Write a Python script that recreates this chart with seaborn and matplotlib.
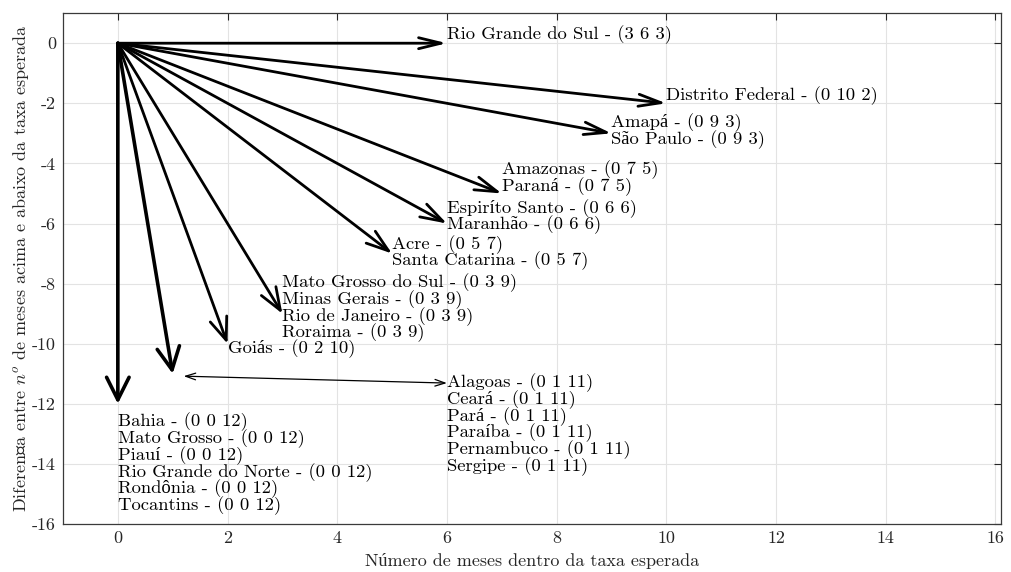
import numpy as np
import matplotlib.pyplot as plt
import seaborn as sns

# endpoints coded as (a b c): x = b, y = a - c
group_codes = [(3, 6, 3), (0, 10, 2), (0, 9, 3), (0, 7, 5), (0, 6, 6),
               (0, 5, 7), (0, 3, 9), (0, 2, 10), (0, 1, 11), (0, 0, 12)]
group_states = [
    ["Rio Grande do Sul"],
    ["Distrito Federal"],
    ["Amapá", "São Paulo"],
    ["Amazonas", "Paraná"],
    ["Espiríto Santo", "Maranhão"],
    ["Acre", "Santa Catarina"],
    ["Mato Grosso do Sul", "Minas Gerais", "Rio de Janeiro", "Roraima"],
    ["Goiás"],
    ["Alagoas", "Ceará", "Pará", "Paraíba", "Pernambuco", "Sergipe"],
    ["Bahia", "Mato Grosso", "Piauí", "Rio Grande do Norte", "Rondônia", "Tocantins"],
]
x_ticks = list(range(0, 17, 2))
y_ticks = list(range(0, -17, -2))

# label placement (layout only): x of label, offset of first line from the tip
label_x = [6, 10, 9, 7, 6, 5, 3, 2, 6, 0]
label_dy = [0.27, 0.27, 0.34, 0.78, 0.51, 0.31, 1.02, -0.15, -0.31, -0.61]
line_gap = 0.555

sns.set_theme(style='whitegrid')
plt.rcParams['font.family'] = ['cmr10', 'Liberation Serif']
plt.rcParams['mathtext.fontset'] = 'cm'
plt.rcParams['axes.unicode_minus'] = False

fig = plt.figure(figsize=(10.11, 5.72), dpi=100)
ax = fig.add_axes([0.0623, 0.0839, 0.9277, 0.8931])

fs_txt = 13.4
fs_ax = 13
for code, states, lx, dy in zip(group_codes, group_states, label_x, label_dy):
    a, b, c = code
    x, y = b, a - c
    thick = len(states) >= 6
    lw = 2.6 if thick else 2.0
    steep = abs(np.sin(np.arctan2(30 * y, 55 * x))) if x or y else 1
    hw = 0.45 if thick else 0.22 + 0.14 * steep
    ax.annotate('', xy=(x, y), xytext=(0, 0),
                arrowprops=dict(arrowstyle=f'->,head_length=0.9,head_width={hw:.2f}',
                                mutation_scale=18, lw=lw, color='black',
                                shrinkA=0, shrinkB=0))
    y0 = y + dy
    for i, s in enumerate(states):
        ax.text(lx, y0 - i * line_gap, f'{s} - ({a} {b} {c})', fontsize=fs_txt,
                ha='left', va='center', color='black')
    if lx != x:
        ax.annotate('', xy=(lx, y0), xytext=(x + 0.2, y - 0.08),
                    arrowprops=dict(arrowstyle='<->,head_length=0.6,head_width=0.2',
                                    mutation_scale=12, lw=0.9, color='black',
                                    shrinkA=0, shrinkB=0))

ax.set_xlim(-1, 16.1)
ax.set_ylim(-16, 1)
ax.set_xticks(x_ticks)
ax.set_yticks(y_ticks)
ax.grid(True, color='#e3e3e3', lw=0.8)
ax.tick_params(direction='in', length=5, width=0.8, color='#262626',
               top=True, right=True, labelsize=fs_ax, labelcolor='#262626', pad=5)
for sp in ax.spines.values():
    sp.set_color('#3a3a3a')
    sp.set_linewidth(0.9)
ax.set_facecolor('white')

ax.set_xlabel('Número de meses dentro da taxa esperada', fontsize=fs_ax, color='#262626', labelpad=5)
ax.set_ylabel(r'Diferença entre $n^o$ de meses acima e abaixo da taxa esperada',
              fontsize=fs_ax, color='#262626', labelpad=1)

fig.savefig('out.png', dpi=100)
